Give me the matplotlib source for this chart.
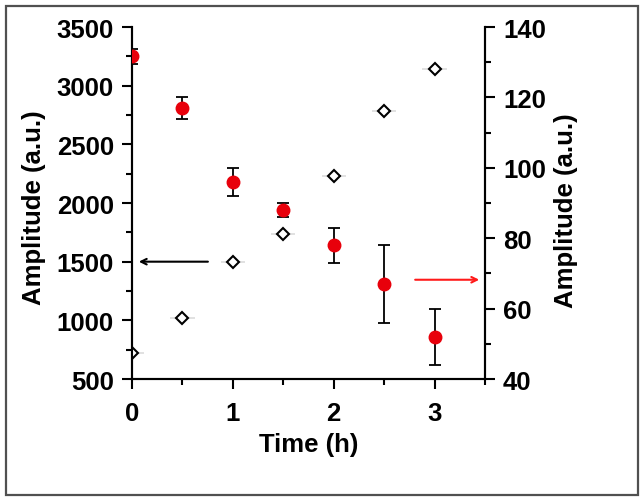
import numpy as np
import matplotlib.pyplot as plt
from matplotlib.patches import Rectangle
from matplotlib.ticker import MultipleLocator

plt.rcParams['font.family'] = ['Liberation Sans', 'DejaVu Sans']
plt.rcParams['font.weight'] = 'bold'

# data
time = [0, 0.5, 1, 1.5, 2, 2.5, 3]
amp_left = [3250, 2810, 2180, 1940, 1640, 1310, 860]
amp_left_err = [65, 90, 120, 60, 150, 330, 240]
amp_right = [47.3, 57.3, 73.3, 81.3, 97.8, 116.0, 128.0]
amp_right_xerr = [0.12, 0.12, 0.12, 0.12, 0.12, 0.12, 0.12]

fig = plt.figure(figsize=(6.43, 5.02), dpi=100)
ax = fig.add_axes([0.2053, 0.243, 0.549, 0.7012])
ax2 = ax.twinx()

# diamonds on right axis (faint x error bars)
ax2.errorbar(time, amp_right, xerr=amp_right_xerr, fmt='D', ms=6.5, mfc='white',
             mec='black', mew=1.5, ecolor='#dcdcdc', elinewidth=1.2, capsize=0, zorder=3)

# red dots with error bars on left axis
ax.errorbar(time, amp_left, yerr=amp_left_err, fmt='o', ms=9, color='#e8000b',
            mec='#e8000b', ecolor='black', elinewidth=1.3, capsize=4, capthick=1.3, zorder=4)
ax.set_zorder(ax2.get_zorder() + 1)
ax.patch.set_visible(False)

ax.set_xlim(0, 3.5)
ax.set_ylim(500, 3500)
ax2.set_ylim(40, 140)

ax.xaxis.set_major_locator(MultipleLocator(1))
ax.xaxis.set_minor_locator(MultipleLocator(0.5))
ax.yaxis.set_major_locator(MultipleLocator(500))
ax.yaxis.set_minor_locator(MultipleLocator(250))
ax2.yaxis.set_major_locator(MultipleLocator(20))
ax2.yaxis.set_minor_locator(MultipleLocator(10))

fs = 18.5
for a in (ax, ax2):
    a.spines['top'].set_visible(False)
    for s in a.spines.values():
        s.set_linewidth(1.5)
    a.tick_params(which='major', length=7, width=1.5, labelsize=fs, pad=6)
    a.tick_params(which='minor', length=4, width=1.5)
    for lab in a.get_yticklabels() + a.get_xticklabels():
        lab.set_fontweight('bold')
ax.tick_params(axis='x', which='major', pad=9)

ax.set_xlabel('Time (h)', fontsize=fs, fontweight='bold', labelpad=5)
ax.set_ylabel('Amplitude (a.u.)', fontsize=fs, fontweight='bold')
ax2.set_ylabel('Amplitude (a.u.)', fontsize=fs, fontweight='bold')
ax.yaxis.set_label_coords(-0.245, 0.49)
ax2.yaxis.set_label_coords(1.195, 0.48)

# arrows pointing to the respective axes
ax.annotate('', xy=(0.04, 1500), xytext=(0.78, 1500),
            arrowprops=dict(arrowstyle='->', color='black', lw=1.5))
ax2.annotate('', xy=(3.47, 68.2), xytext=(2.78, 68.2),
             arrowprops=dict(arrowstyle='->', color='#ff1a1a', lw=1.5))

# outer frame
fig.patches.append(Rectangle((0.010, 0.012), 0.982, 0.974, transform=fig.transFigure,
                             fill=False, edgecolor='#505050', linewidth=1.6))

fig.savefig('out.png', dpi=100)
